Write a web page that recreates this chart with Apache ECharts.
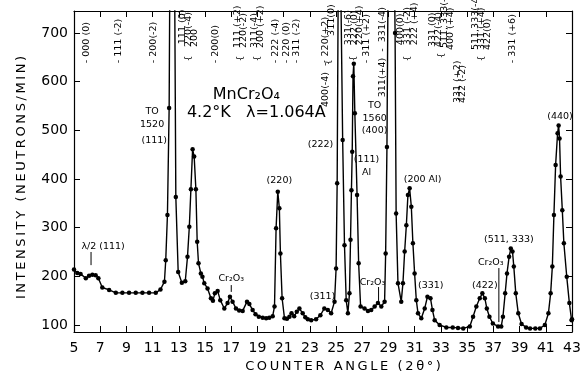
<!DOCTYPE html>
<html><head><meta charset="utf-8">
<script src="https://cdn.jsdelivr.net/npm/echarts@6/dist/echarts.min.js"></script>
<style>html,body{margin:0;padding:0;background:#fff}#c{width:585px;height:383px}</style>
</head><body><div id="c"></div>
<script>
// Counter angle (2θ, degrees)
const angles = [5.0,5.25,5.5,5.9,6.15,6.4,6.65,6.86,7.16,7.68,8.19,8.69,9.2,9.71,10.22,10.73,11.24,11.6,11.9,12.0,12.13,12.26,12.45,12.66,12.77,12.95,13.23,13.49,13.66,13.8,13.92,14.05,14.17,14.3,14.4,14.5,14.68,14.8,14.94,15.19,15.45,15.6,15.75,15.96,16.16,16.47,16.72,16.9,17.1,17.36,17.6,17.87,18.2,18.38,18.63,18.85,19.1,19.4,19.66,19.9,20.16,20.3,20.42,20.55,20.67,20.75,20.88,21.06,21.25,21.44,21.6,21.8,22.0,22.2,22.45,22.65,22.84,23.1,23.47,23.8,24.1,24.37,24.62,24.88,25.0,25.08,25.22,25.5,25.64,25.77,25.9,26.02,26.1,26.17,26.23,26.29,26.35,26.43,26.6,26.72,26.87,27.17,27.43,27.68,27.94,28.19,28.45,28.7,28.78,28.88,29.15,29.5,29.58,29.72,29.97,30.1,30.23,30.36,30.48,30.61,30.74,30.86,30.99,31.12,31.25,31.5,31.76,31.97,32.2,32.35,32.52,32.9,33.41,33.9,34.3,34.7,35.2,35.45,35.7,35.96,36.16,36.35,36.5,36.7,36.96,37.36,37.6,37.73,37.9,38.04,38.2,38.33,38.46,38.56,38.71,38.9,39.15,39.5,39.8,40.2,40.55,40.93,41.2,41.37,41.5,41.62,41.75,41.9,41.98,42.05,42.13,42.26,42.38,42.6,42.8,42.97,43.0];
// Intensity (neutrons / min)
const counts = [214,207,205,196,201,203,202,196,177,172,166,166,166,166,166,166,166,173,189,233,326,546,1520,900,363,209,187,190,240,302,379,461,446,379,271,227,206,199,186,175,155,150,165,170,151,134,145,158,148,134,130,129,148,143,131,122,117,115,114,115,118,138,299,374,340,247,155,114,113,117,124,118,127,134,124,116,112,110,112,120,134,131,124,148,216,391,1100,480,264,151,124,165,275,377,456,611,637,535,367,227,138,134,129,131,138,145,138,148,247,466,1560,700,329,186,148,186,251,305,367,381,343,268,206,151,124,114,134,158,155,131,110,100,95,95,94,93,97,117,138,155,165,155,134,117,103,97,97,117,165,206,240,257,251,220,165,124,102,95,93,93,93,100,124,165,220,326,429,494,510,483,405,336,268,199,145,110,112];
const xTicks = [5,7,9,11,13,15,17,19,21,23,25,27,29,31,33,35,37,39,41,43];
const yTicks = [100,200,300,400,500,600,700];

// Reflection labels along the top: [text, angle, intensity at lower end]
const hklLabels = [
  ['- 000 (0)',5.99,638],['- 111 (-2)',8.36,638],['- 200(-2)',11.04,638],
  ['111 (0)',13.26,677],['220(-4)',13.72,671],['200',14.17,671],
  ['- 200(0)',15.78,638],
  ['111 (+2)',17.46,669],['220(-2)',17.92,669],['311(-4)',18.76,669],['200 (+2)',19.22,669],
  ['- 222 (-4)',20.37,638],['- 220 (0)',21.21,638],['- 311 (-2)',21.97,638],
  ['400(-4)  -  220(+2)',24.19,548],['311(0)',24.65,694],
  ['331(-6)',25.95,675],['222 (0)',26.41,675],['220(+4)',26.79,675],
  ['- 311 (+2)',27.32,638],['311(+4)  -  331(-4)',28.55,568],
  ['400(0)',29.92,675],['331 (-2)',30.46,675],['222 (+4)',30.99,675],
  ['331 (0)',32.37,671],['422(-4)',32.83,671],['511, 333(-6)',33.29,669],['400 (+4)',33.75,665],
  ['331 (+2)',34.28,556],['422 (-2)',34.66,556],
  ['511,333(-4)',35.66,665],['331 (+4)',36.12,665],['422(0)',36.57,665],
  ['- 331 (+6)',38.49,638]
];
// Brace marks joining grouped labels: [angle, intensity]
const braces = [[13.72,648],[17.69,648],[19.0,648],[24.42,640],[26.33,648],[30.46,648],[33.06,654],[36.12,648]];
// Peak labels inside the plot: [text, angle, intensity, fontSize]
const peakLabels = [
  ['MnCr₂O₄',18.15,573,16],
  ['4.2°K   λ=1.064A',18.91,536,16],
  ['TO\n1520',10.96,525,9.5],['(111)',11.12,480,9.5],
  ['λ/2 (111)',7.22,262,9.5],
  ['Cr₂O₃',17.0,195,9.5],
  ['(220)',20.67,396,9.5],
  ['(311)',23.96,158,9.5],
  ['(222)',23.81,470,9.5],
  ['(111)\nAl',27.32,427,9.5],
  ['TO\n1560\n(400)',27.94,525,9.5],
  ['Cr₂O₃',27.78,188,9.5],
  ['(200 Al)',31.6,398,9.5],
  ['(331)',32.22,182,9.5],
  ['(422)',36.35,182,9.5],
  ['Cr₂O₃',36.8,229,9.5],
  ['(511, 333)',38.18,275,9.5],
  ['(440)',42.08,529,9.5]
];
// Pointer strokes: [angle, from intensity, to intensity]
const pointers = [[6.3,250,223],[17.0,182,168],[28.24,178,145],[37.42,217,106]];

const spaced = s => s.split('').join('\u2009');
const FONT = '"DejaVu Sans", sans-serif';
const chart = echarts.init(document.getElementById('c'), null, {renderer:'canvas'});
const axisCommon = {
  axisLine:{show:true,lineStyle:{color:'#000',width:1.2}},
  splitLine:{show:false}
};
chart.setOption({
  backgroundColor:'#fff',
  animation:false,
  grid:{left:74,right:13,top:11,bottom:51},
  xAxis:[
    Object.assign({type:'value',min:5,max:43,position:'bottom',
      name:spaced('COUNTER ANGLE (2θ°)'),nameLocation:'middle',nameGap:27,
      nameTextStyle:{fontFamily:FONT,fontSize:13,color:'#000',padding:[0,0,0,40]},
      axisTick:{show:true,inside:true,length:6,lineStyle:{color:'#000'},customValues:xTicks},
      axisLabel:{show:true,fontFamily:FONT,fontSize:14,color:'#000',margin:9,customValues:xTicks}
    },axisCommon),
    Object.assign({type:'value',min:5,max:43,position:'top',
      axisTick:{show:true,inside:true,length:6,lineStyle:{color:'#000'},customValues:xTicks},
      axisLabel:{show:false}
    },axisCommon)
  ],
  yAxis:[
    Object.assign({type:'value',min:85.6,max:745.2,position:'left',
      name:spaced('INTENSITY (NEUTRONS/MIN)'),nameLocation:'middle',nameGap:46,
      nameTextStyle:{fontFamily:FONT,fontSize:13,color:'#000',padding:[0,12,0,0]},
      axisTick:{show:true,inside:true,length:6,lineStyle:{color:'#000'},customValues:yTicks},
      axisLabel:{show:true,fontFamily:FONT,fontSize:14,color:'#000',margin:6,customValues:yTicks}
    },axisCommon),
    Object.assign({type:'value',min:85.6,max:745.2,position:'right',
      axisTick:{show:true,inside:true,length:6,lineStyle:{color:'#000'},customValues:yTicks},
      axisLabel:{show:false}
    },axisCommon)
  ],
  series:[{
    type:'line',
    data:angles.map((a,i)=>[a,counts[i]]),
    symbol:'circle',symbolSize:4.5,showAllSymbol:true,
    lineStyle:{color:'#000',width:1.4},
    itemStyle:{color:'#000'},
    clip:true
  }]
});

const px = (x,y)=>chart.convertToPixel({gridIndex:0},[x,y]);
const g = [];
hklLabels.forEach(([t,x,y])=>{
  const p = px(x,y);
  g.push({type:'text',x:p[0],y:p[1],rotation:Math.PI/2,silent:true,
    style:{text:t,font:'9.5px '+FONT,fill:'#000',textAlign:'left',textVerticalAlign:'middle'}});
});
braces.forEach(([x,y])=>{
  const p = px(x,y);
  g.push({type:'text',x:p[0],y:p[1],rotation:Math.PI/2,silent:true,
    style:{text:'{',font:'9px '+FONT,fill:'#000',textAlign:'center',textVerticalAlign:'middle'}});
});
peakLabels.forEach(([t,x,y,fs])=>{
  const p = px(x,y);
  g.push({type:'text',x:p[0],y:p[1],silent:true,
    style:{text:t,font:fs+'px '+FONT,fill:'#000',textAlign:'center',textVerticalAlign:'middle',lineHeight:fs+3}});
});
pointers.forEach(([x,y1,y2])=>{
  const a = px(x,y1), b = px(x,y2);
  g.push({type:'line',silent:true,shape:{x1:a[0],y1:a[1],x2:b[0],y2:b[1]},style:{stroke:'#000',lineWidth:1}});
});
chart.setOption({graphic:g});
</script>
</body></html>
